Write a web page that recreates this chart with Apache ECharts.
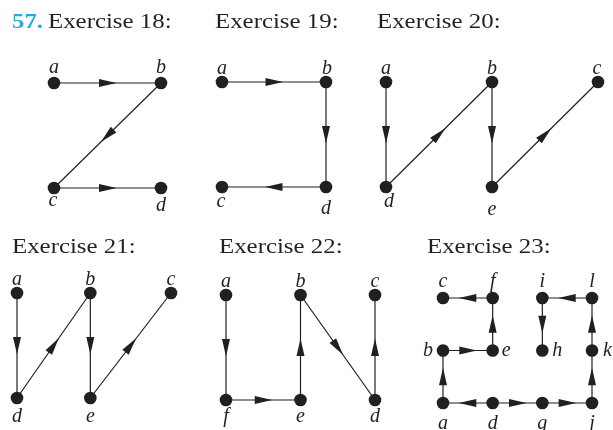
<!DOCTYPE html>
<html>
<head>
<meta charset="utf-8">
<script src="https://cdn.jsdelivr.net/npm/echarts@6/dist/echarts.min.js"></script>
<style>html,body{margin:0;padding:0;background:#fff;}#c{width:613px;height:430px;}</style>
</head>
<body>
<div id="c"></div>
<script>
// ---------- DATA ----------
const problemNumber = '57.';
const exerciseTitles = ['Exercise 18:', 'Exercise 19:', 'Exercise 20:', 'Exercise 21:', 'Exercise 22:', 'Exercise 23:'];

// node names, grid column / row of each node, directed edges
const ex18Names = ['a', 'b', 'c', 'd'];
const ex18Col = [0, 1, 0, 1];
const ex18Row = [0, 0, 1, 1];
const ex18Edges = [['a', 'b'], ['b', 'c'], ['c', 'd']];

const ex19Names = ['a', 'b', 'c', 'd'];
const ex19Col = [0, 1, 0, 1];
const ex19Row = [0, 0, 1, 1];
const ex19Edges = [['a', 'b'], ['b', 'd'], ['d', 'c']];

const ex20Names = ['a', 'b', 'c', 'd', 'e'];
const ex20Col = [0, 1, 2, 0, 1];
const ex20Row = [0, 0, 0, 1, 1];
const ex20Edges = [['a', 'd'], ['d', 'b'], ['b', 'e'], ['e', 'c']];

const ex21Names = ['a', 'b', 'c', 'd', 'e'];
const ex21Col = [0, 1, 2.1, 0, 1];
const ex21Row = [0, 0, 0, 1, 1];
const ex21Edges = [['a', 'd'], ['d', 'b'], ['b', 'e'], ['e', 'c']];

const ex22Names = ['a', 'b', 'c', 'd', 'e', 'f'];
const ex22Col = [0, 1, 2, 2, 1, 0];
const ex22Row = [0, 0, 0, 1, 1, 1];
const ex22Edges = [['a', 'f'], ['f', 'e'], ['e', 'b'], ['b', 'd'], ['d', 'c']];

const ex23Names = ['a', 'b', 'c', 'd', 'e', 'f', 'g', 'h', 'i', 'j', 'k', 'l'];
const ex23Col = [0, 0, 0, 1, 1, 1, 2, 2, 2, 3, 3, 3];
const ex23Row = [2, 1, 0, 2, 1, 0, 2, 1, 0, 2, 1, 0];
const ex23Edges = [['a', 'b'], ['b', 'e'], ['e', 'f'], ['f', 'c'], ['d', 'a'], ['d', 'g'],
                   ['g', 'j'], ['j', 'k'], ['k', 'l'], ['l', 'i'], ['i', 'h']];

// ---------- LAYOUT / STYLE ----------
const INK = '#231F20';
const BLUE = '#27AAE1';
const TITLE_FONT = "22px 'Liberation Serif', 'DejaVu Serif', serif";
const LABEL_FONT = "italic 20px 'Liberation Serif', 'DejaVu Serif', serif";
const TITLE_SCALE = 1.13;
const LABEL_SHIFT = 3.5;

const exercises = [
  { names: ex18Names, col: ex18Col, row: ex18Row, edges: ex18Edges, maxX: 1, maxY: 1,
    grid: { left: 54, top: 83, width: 107, height: 105 },
    labels: { a: [0, -19], b: [0, -19], c: [-1, 9], d: [0, 14] } },
  { names: ex19Names, col: ex19Col, row: ex19Row, edges: ex19Edges, maxX: 1, maxY: 1,
    grid: { left: 222, top: 82, width: 104, height: 105 },
    labels: { a: [0, -17], b: [1, -17], c: [-1, 11], d: [0, 18] } },
  { names: ex20Names, col: ex20Col, row: ex20Row, edges: ex20Edges, maxX: 2, maxY: 1,
    grid: { left: 386, top: 82, width: 212, height: 105 },
    labels: { a: [0, -17], b: [0, -17], c: [-1, -17], d: [3, 11], e: [0, 19] } },
  { names: ex21Names, col: ex21Col, row: ex21Row, edges: ex21Edges, maxX: 2.1, maxY: 1,
    grid: { left: 17, top: 293, width: 154, height: 105 },
    labels: { a: [0, -17], b: [0, -17], c: [0, -17], d: [0, 15], e: [0, 15] } },
  { names: ex22Names, col: ex22Col, row: ex22Row, edges: ex22Edges, maxX: 2, maxY: 1,
    grid: { left: 226, top: 295, width: 149, height: 105 },
    labels: { a: [0, -17], b: [0, -17], c: [0, -17], d: [0, 13], e: [0, 13], f: [0, 13] } },
  { names: ex23Names, col: ex23Col, row: ex23Row, edges: ex23Edges, maxX: 3, maxY: 2,
    grid: { left: 443, top: 298, width: 149, height: 105 },
    labels: { c: [0, -20], f: [0, -20], i: [0, -20], l: [0, -20],
              b: [-10, -3, 'right'], e: [9, -3, 'left'], h: [10, -3, 'left'], k: [11, -3, 'left'],
              a: [0, 17], d: [0, 17], g: [0, 17], j: [0, 17] } }
];

const grids = [], xAxes = [], yAxes = [], series = [];

exercises.forEach((ex, i) => {
  grids.push(Object.assign({ show: false }, ex.grid));
  xAxes.push({ type: 'value', gridIndex: i, min: 0, max: ex.maxX, show: false,
               axisLabel: { show: false }, splitLine: { show: false } });
  yAxes.push({ type: 'value', gridIndex: i, min: 0, max: ex.maxY, inverse: true, show: false,
               axisLabel: { show: false }, splitLine: { show: false } });

  const idx = {};
  ex.names.forEach((n, k) => { idx[n] = k; });

  const edgeData = ex.edges.map(([f, t]) => [ex.col[idx[f]], ex.row[idx[f]], ex.col[idx[t]], ex.row[idx[t]]]);
  series.push({
    type: 'custom', xAxisIndex: i, yAxisIndex: i, silent: true, clip: false,
    data: edgeData,
    encode: { x: [0, 2], y: [1, 3] },
    renderItem: (params, api) => {
      const p1 = api.coord([api.value(0), api.value(1)]);
      const p2 = api.coord([api.value(2), api.value(3)]);
      const dx = p2[0] - p1[0], dy = p2[1] - p1[1];
      const len = Math.sqrt(dx * dx + dy * dy);
      const ux = dx / len, uy = dy / len, nx = -uy, ny = ux;
      const mx = (p1[0] + p2[0]) / 2, my = (p1[1] + p2[1]) / 2;
      const tip = [mx + 9 * ux, my + 9 * uy];
      const b1 = [mx - 8.5 * ux + 4 * nx, my - 8.5 * uy + 4 * ny];
      const b2 = [mx - 8.5 * ux - 4 * nx, my - 8.5 * uy - 4 * ny];
      return {
        type: 'group',
        children: [
          { type: 'line', shape: { x1: p1[0], y1: p1[1], x2: p2[0], y2: p2[1] },
            style: { stroke: INK, lineWidth: 1.2 } },
          { type: 'polygon', shape: { points: [tip, b1, b2] }, style: { fill: INK } }
        ]
      };
    }
  });

  const nodeData = ex.names.map((n, k) => [ex.col[k], ex.row[k], k]);
  series.push({
    type: 'custom', xAxisIndex: i, yAxisIndex: i, silent: true, clip: false, z: 3,
    data: nodeData,
    encode: { x: 0, y: 1 },
    renderItem: (params, api) => {
      const p = api.coord([api.value(0), api.value(1)]);
      const name = ex.names[api.value(2)];
      const lab = ex.labels[name] || [0, -18];
      return {
        type: 'group',
        children: [
          { type: 'circle', shape: { cx: p[0], cy: p[1], r: 6.3 }, style: { fill: INK } },
          { type: 'text', x: p[0] + lab[0], y: p[1] + lab[1] + LABEL_SHIFT,
            style: { text: name, font: LABEL_FONT, fill: INK, align: lab[2] || 'center', verticalAlign: 'middle' } }
        ]
      };
    }
  });
});

const titleSpots = [[48, 22], [215, 22], [377, 22], [12, 247], [219, 247], [427, 247]];
const graphics = [
  { type: 'text', x: 12, y: 22, scaleX: TITLE_SCALE,
    style: { text: problemNumber, font: "bold " + TITLE_FONT, fill: BLUE, verticalAlign: 'middle' } }
];
exerciseTitles.forEach((t, i) => {
  graphics.push({ type: 'text', x: titleSpots[i][0], y: titleSpots[i][1], scaleX: TITLE_SCALE,
    style: { text: t, font: TITLE_FONT, fill: INK, verticalAlign: 'middle' } });
});

const chart = echarts.init(document.getElementById('c'), null, { renderer: 'canvas' });
chart.setOption({
  animation: false,
  backgroundColor: '#ffffff',
  grid: grids,
  xAxis: xAxes,
  yAxis: yAxes,
  graphic: graphics,
  series: series
});
</script>
</body>
</html>
